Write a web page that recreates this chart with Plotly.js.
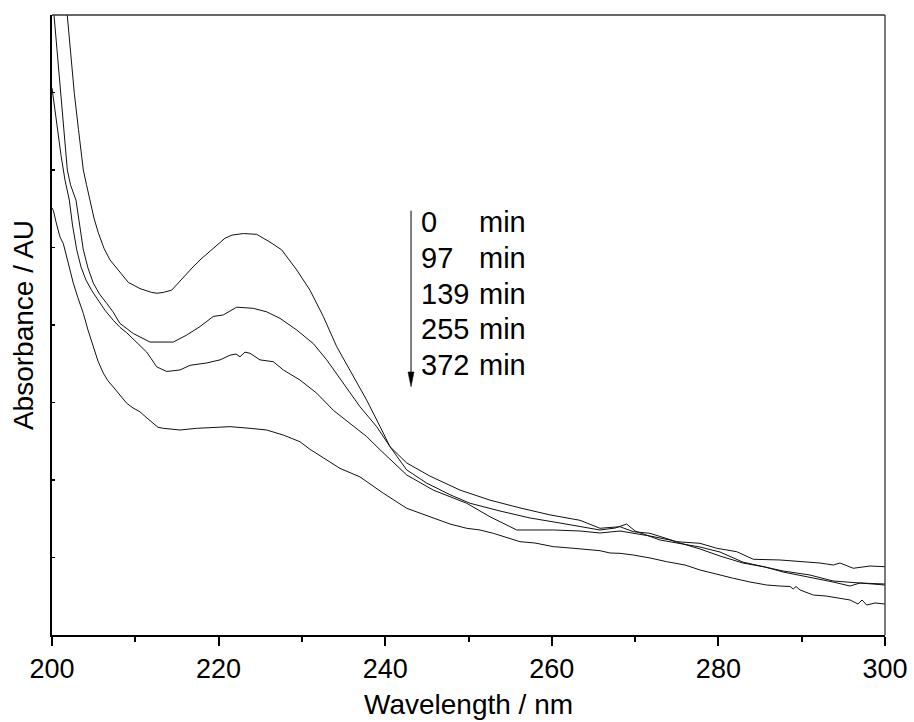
<!DOCTYPE html>
<html>
<head>
<meta charset="utf-8">
<script src="https://cdn.plot.ly/plotly-3.0.1.min.js"></script>
<style>
  html, body { margin: 0; padding: 0; background: #fff; }
  #chart { width: 914px; height: 722px; }
</style>
</head>
<body>
<div id="chart"></div>
<script>
// Wavelength (nm) and absorbance (arbitrary units)
const x0 = [201.56,201.84,202.16,202.68,203.18,203.76,204.14,204.56,205.04,205.56,206.24,206.96,208.16,209.16,210.56,211.97,212.61,213.36,214.37,215.76,216.81,217.77,219.36,220.77,221.61,222.97,224.57,226.17,227.57,229.38,230.97,232.57,234.18,235.77,237.78,239.38,240.58,242.58,244.98,247.78,250.18,253.78,257.38,260.98,265.78,267.59,268.99,269.99,272.99,277.79,280.19,282.95,284.99,287.76,290.99,293.76,297.0,300];
const y0 = [0.832,0.800,0.755,0.699,0.652,0.600,0.581,0.561,0.538,0.519,0.499,0.484,0.468,0.455,0.447,0.442,0.441,0.442,0.445,0.462,0.4735,0.484,0.499,0.512,0.516,0.518,0.517,0.507,0.497,0.471,0.445,0.411,0.372,0.342,0.303,0.269,0.243,0.213,0.196,0.181,0.170,0.160,0.151,0.1445,0.1355,0.138,0.1432,0.1342,0.1226,0.1135,0.1071,0.094,0.089,0.0826,0.0774,0.0697,0.0671,0.0645];

const x97 = [200.12,200.24,200.60,201.04,201.38,201.84,202.22,202.88,203.76,204.32,204.96,205.70,206.57,207.32,208.16,209.76,211.76,213.09,214.56,216.17,217.77,219.36,220.56,222.17,224.17,225.77,227.37,229.38,231.37,232.98,234.97,236.97,238.98,240.58,242.58,245.38,248.98,252.58,256.18,259.78,263.39,265.78,268.19,269.78,271.79,274.99,277.79,279.80,282.20,284.19,287.39,290.60,292.20,293.79,294.60,296.19,298.20,300];
const y97 = [0.832,0.800,0.755,0.699,0.652,0.600,0.581,0.561,0.497,0.4735,0.454,0.440,0.428,0.417,0.402,0.389,0.378,0.378,0.378,0.387,0.398,0.411,0.413,0.423,0.4215,0.417,0.4086,0.3935,0.376,0.355,0.325,0.2946,0.2688,0.243,0.222,0.205,0.187,0.174,0.164,0.155,0.148,0.1377,0.1397,0.1333,0.1312,0.1204,0.1183,0.1119,0.1075,0.0977,0.0968,0.0946,0.0929,0.0903,0.0929,0.0861,0.089,0.0881];

const x139 = [200,200.48,201.08,201.56,202.08,202.46,202.97,203.48,204.08,204.80,205.52,206.36,207.36,208.16,208.97,210.17,211.37,211.88,212.57,213.77,215.37,216.57,218.57,220.17,221.37,222.09,222.57,223.17,223.77,224.97,226.57,227.77,229.77,231.78,233.77,235.77,237.78,239.38,242.58,245.77,249.78,252.58,255.79,260.18,263.39,265.78,268.19,271.79,274.19,277.79,280.19,282.95,285.59,287.76,290.99,293.76,295.80,297.0,300];
const y139 = [0.706,0.665,0.619,0.587,0.561,0.529,0.497,0.475,0.458,0.444,0.432,0.419,0.406,0.397,0.390,0.378,0.365,0.357,0.346,0.340,0.342,0.348,0.351,0.355,0.361,0.3626,0.359,0.365,0.3635,0.355,0.3526,0.342,0.329,0.312,0.290,0.273,0.256,0.239,0.2065,0.187,0.170,0.1526,0.1355,0.1355,0.1342,0.1316,0.1342,0.1277,0.1226,0.111,0.1019,0.0929,0.0877,0.0813,0.0748,0.0684,0.0632,0.0671,0.0658];

const x372 = [200,200.16,200.48,200.96,201.36,201.92,202.56,203.12,203.76,204.32,204.96,205.52,206.16,206.72,207.36,208.16,208.97,209.72,210.56,211.40,212.16,212.73,213.36,215.37,217.37,219.36,221.37,223.77,225.77,227.77,229.77,230.97,234.57,236.97,239.77,242.58,245.77,247.78,249.78,251.38,252.98,254.38,256.18,257.98,260.18,262.18,264.98,265.78,266.99,268.19,269.78,271.79,273.79,276.0,277.79,279.6,281.79,283.79,285.80,287.39,288.6,288.99,289.32,289.8,291.39,292.92,294.60,295.8,296.76,297.24,297.80,298.8,300];
const y372 = [0.551,0.548,0.533,0.5135,0.505,0.481,0.454,0.435,0.415,0.3935,0.372,0.3535,0.338,0.328,0.320,0.310,0.299,0.293,0.288,0.280,0.273,0.268,0.2667,0.2645,0.2667,0.2675,0.2688,0.2667,0.2645,0.258,0.2494,0.2396,0.215,0.204,0.183,0.1635,0.1506,0.1432,0.1377,0.1355,0.1312,0.1265,0.1204,0.1187,0.114,0.1123,0.1097,0.1088,0.1058,0.1054,0.1032,0.0994,0.0946,0.0903,0.0839,0.0787,0.0732,0.0684,0.0645,0.0632,0.0626,0.0594,0.0626,0.0581,0.0516,0.0503,0.0474,0.0452,0.040,0.0452,0.0387,0.0413,0.040];

// Legend-like labels (time list)
const times = ['0', '97', '139', '255', '372'];
const unitLabel = 'min';
const xTicks = [200, 220, 240, 260, 280, 300];

const FONT = 'Liberation Sans, Arial, sans-serif';
const line = {color: '#111', width: 1};

const traces = [
  {x: x0, y: y0, name: '0 min'},
  {x: x97, y: y97, name: '97 min'},
  {x: x139, y: y139, name: '139 min'},
  {x: x372, y: y372, name: '372 min'}
].map(t => Object.assign(t, {type: 'scatter', mode: 'lines', line: line, showlegend: false, hoverinfo: 'skip'}));

// label positions (data coords)
const labX = 244.0, unitX = 251.0, labY0 = 0.533, labStep = 0.0462;
const annotations = [];
times.forEach((t, i) => {
  annotations.push({x: labX, y: labY0 - i * labStep, xref: 'x', yref: 'y', text: t, showarrow: false,
    xanchor: 'left', yanchor: 'middle', font: {family: FONT, size: 29, color: '#000'}});
  annotations.push({x: unitX, y: labY0 - i * labStep, xref: 'x', yref: 'y', text: unitLabel, showarrow: false,
    xanchor: 'left', yanchor: 'middle', font: {family: FONT, size: 29, color: '#000'}});
});
// x-axis title
annotations.push({x: 0.5, y: -0.112, xref: 'paper', yref: 'paper', text: 'Wavelength / nm', showarrow: false,
  xanchor: 'center', yanchor: 'middle', font: {family: FONT, size: 28, color: '#000'}});

const arrX = 243.1, arrTop = 0.5475, arrTip = 0.3204, arrBase = 0.3394, arrHalf = 0.36;
const shapes = [
  {type: 'line', xref: 'x', yref: 'y', x0: arrX, x1: arrX, y0: arrTop, y1: arrBase, line: {color: '#000', width: 1}},
  {type: 'path', xref: 'x', yref: 'y',
   path: `M ${arrX - arrHalf},${arrBase} L ${arrX + arrHalf},${arrBase} L ${arrX},${arrTip} Z`,
   fillcolor: '#000', line: {color: '#000', width: 0.5}},
  {type: 'line', xref: 'paper', yref: 'paper', x0: 0, x1: 1, y0: 1, y1: 1, line: {color: '#333', width: 1.3}},
  {type: 'line', xref: 'paper', yref: 'paper', x0: 1, x1: 1, y0: 0, y1: 1, line: {color: '#333', width: 1.3}}
];

const layout = {
  width: 914, height: 722,
  margin: {l: 52, r: 29, t: 15, b: 87},
  paper_bgcolor: '#fff', plot_bgcolor: '#fff',
  font: {family: FONT, color: '#000'},
  showlegend: false,
  xaxis: {
    range: [200, 300], tickvals: xTicks, ticktext: xTicks.map(String),
    ticks: 'outside', ticklen: 9, tickwidth: 2, tickcolor: '#000',
    minor: {dtick: 10, tick0: 200, ticks: 'outside', ticklen: 5, tickwidth: 2, tickcolor: '#000'},
    showline: true, linewidth: 2, linecolor: '#000', showgrid: false, zeroline: false,
    tickfont: {family: FONT, size: 27, color: '#000'},
    automargin: false, fixedrange: true
  },
  yaxis: {
    range: [0, 0.8], tickvals: [0,0.1,0.2,0.3,0.4,0.5,0.6,0.7,0.8],
    ticks: 'inside', ticklen: 3, tickwidth: 1.5, tickcolor: '#000',
    showticklabels: false,
    showline: true, linewidth: 2, linecolor: '#000', showgrid: false, zeroline: false,
    title: {text: 'Absorbance / AU', font: {family: FONT, size: 28, color: '#000'}, standoff: 8},
    automargin: false, fixedrange: true
  },
  annotations: annotations,
  shapes: shapes
};

Plotly.newPlot('chart', traces, layout, {displayModeBar: false, staticPlot: true});
</script>
</body>
</html>
